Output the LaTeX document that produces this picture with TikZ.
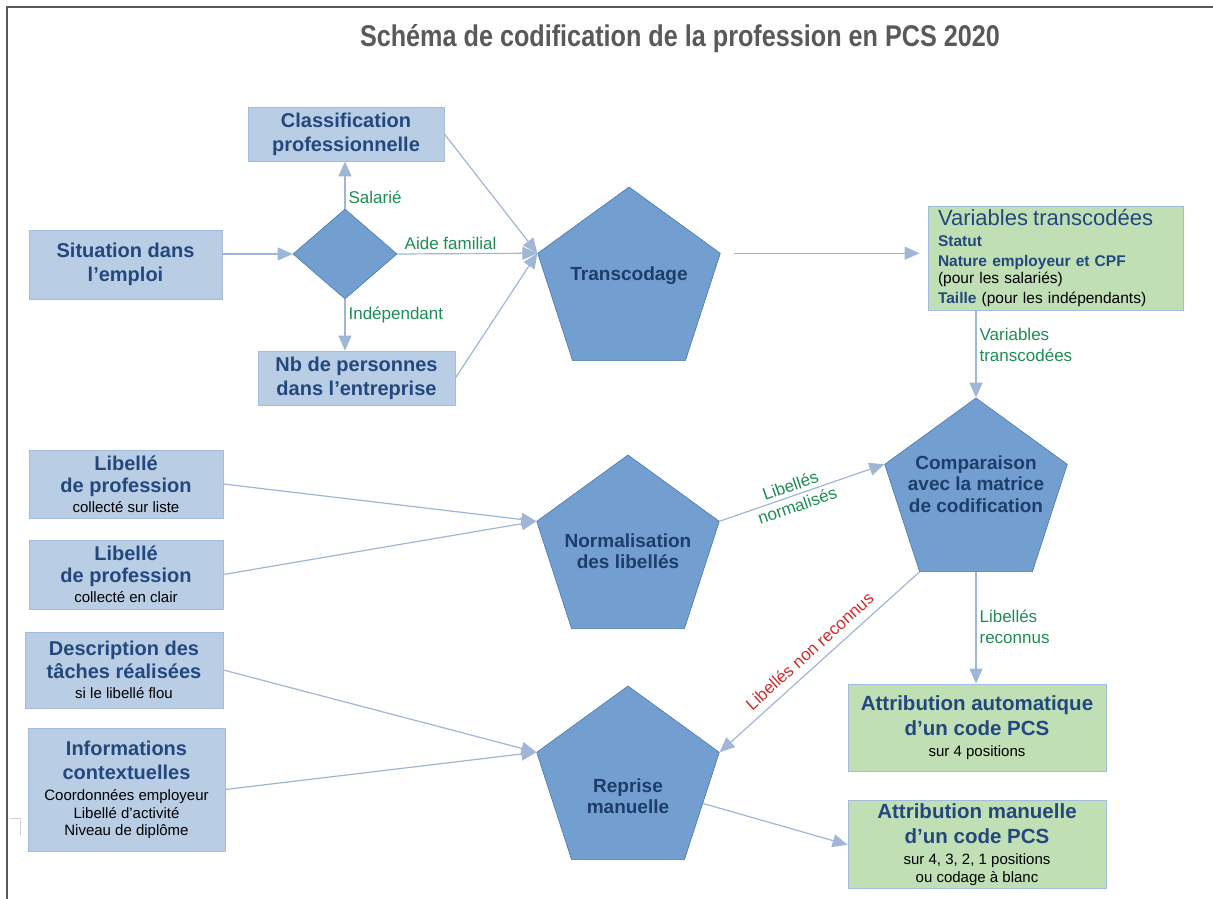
\documentclass[tikz,border=0pt]{standalone}
\usepackage{fontspec}
\setmainfont{Liberation Sans}
\newfontfamily\titrefont[FakeStretch=0.84]{Liberation Sans}
\usetikzlibrary{arrows.meta,positioning,shapes.geometric}

\definecolor{boitebleu}{HTML}{B9CDE5}
\definecolor{bordbleu}{HTML}{A3BCDD}
\definecolor{textebleu}{HTML}{23487D}
\definecolor{pentbleu}{HTML}{729FCF}
\definecolor{pentbord}{HTML}{4A77B0}
\definecolor{penttexte}{HTML}{1D3D6B}
\definecolor{boitevert}{HTML}{C0DFB5}
\definecolor{flechebleu}{HTML}{A0B6D6}
\definecolor{etiqvert}{HTML}{1E8C55}
\definecolor{etiqrouge}{HTML}{D02B2B}
\definecolor{titregris}{HTML}{595959}

\newcommand{\petit}[1]{{\fontsize{15}{17}\selectfont\mdseries\color{black}#1}}

\begin{document}
\begin{tikzpicture}[x=1pt, y=-1pt,
		boite/.style={rectangle, draw=bordbleu, line width=0.8pt, fill=boitebleu, text=textebleu, align=center, inner sep=0pt, font=\bfseries\fontsize{20}{24}\selectfont},
		boiteverte/.style={boite, fill=boitevert},
		pentagone/.style={regular polygon, regular polygon sides=5, minimum size=192pt, inner sep=0pt, fill=pentbleu, draw=pentbord, line width=0.6pt},
		pentlabel/.style={text=penttexte, align=center, font=\bfseries\fontsize{19}{21.5}\selectfont},
		fleche/.style={draw=flechebleu, line width=1.2pt, -{Triangle[length=15pt,width=13pt]}},
		etiq/.style={text=etiqvert, font=\fontsize{17}{21}\selectfont, align=left, inner sep=3pt}
	]
	\useasboundingbox (0,0) rectangle (1213,899);
	% cadre de la page
	\draw[titregris, line width=1.4pt] (1213,7) -- (7,7) -- (7,899);
	\draw[gray!35, line width=1pt] (10,818) -- (20,818) -- (20,835);

	\node (titre) [text=titregris, font=\titrefont\bfseries\fontsize{30}{34}\selectfont] at (680,39) {Schéma de codification de la profession en PCS 2020};

	% statut dans l'emploi
	\node (situation) [boite, minimum width=193pt, minimum height=69pt] at (125.5,264.5) {Situation dans\\l’emploi};
	\node (losange) [diamond, fill=pentbleu, draw=pentbord, line width=0.6pt, minimum width=104pt, minimum height=90pt, inner sep=0pt] at (345,254) {};
	\node (classif) [boite, minimum width=196pt, minimum height=54pt] at (346,134) {Classification\\professionnelle};
	\node (nbpers) [boite, minimum width=197pt, minimum height=54pt] at (356.5,378) {Nb de personnes\\dans l’entreprise};

	\node (transco) [pentagone] at (629,283) {};
	\node (transcotxt) [pentlabel] at ([yshift=7pt]transco.center) {Transcodage};

	\node (varstr) [boiteverte, minimum width=255pt, minimum height=104pt, text width=235pt, align=left, font=\bfseries\fontsize{15.5}{17}\selectfont] at (1055.5,258) {{\mdseries\fontsize{22}{24}\selectfont Variables transcodées}\\[4pt]Statut\\[3pt]Nature employeur et CPF\\{\mdseries\color{black}(pour les salariés)}\\[3pt]Taille {\mdseries\color{black}(pour les indépendants)}};

	% libelles
	\node (lib1) [boite, minimum width=194pt, minimum height=68pt] at (126,484) {Libellé\\[-2pt]de profession\\[-4pt]\petit{collecté sur liste}};
	\node (lib2) [boite, minimum width=194pt, minimum height=69pt] at (126,574.5) {Libellé\\[-2pt]de profession\\[-4pt]\petit{collecté en clair}};
	\node (desc) [boite, minimum width=198pt, minimum height=76pt] at (124,670) {Description des\\[-1pt]tâches réalisées\\[-4pt]\petit{si le libellé flou}};
	\node (info) [boite, minimum width=197pt, minimum height=123pt] at (126.5,789.5) {Informations\\contextuelles\\[-3pt]\petit{Coordonnées employeur}\\[-6pt]\petit{Libellé d’activité}\\[-7pt]\petit{Niveau de diplôme}};

	\node (normal) [pentagone] at (628,551) {};
	\node (normaltxt) [pentlabel] at (normal.center) {Normalisation\\des libellés};
	\node (compar) [pentagone] at (976,494) {};
	\node (compartxt) [pentlabel] at ([yshift=10pt]compar.center) {Comparaison\\avec la matrice\\de codification};
	\node (reprise) [pentagone] at (628,782) {};
	\node (reprisetxt) [pentlabel] at ([yshift=-14pt]reprise.center) {Reprise\\manuelle};

	% attributions
	\node (auto) [boiteverte, minimum width=258pt, minimum height=87pt, font=\bfseries\fontsize{20.5}{25}\selectfont] at (977,727.5) {Attribution automatique\\d’un code PCS\\[-4pt]\petit{sur 4 positions}};
	\node (manu) [boiteverte, minimum width=258pt, minimum height=88pt, font=\bfseries\fontsize{20.5}{25}\selectfont, below=29pt of auto] {Attribution manuelle\\d’un code PCS\\[-4pt]\petit{sur 4, 3, 2, 1 positions}\\[-7pt]\petit{ou codage à blanc}};

	\draw[fleche] (situation.east |- losange.west) -- (losange.west);
	\draw[fleche] (losange.north) -- (losange.north |- classif.south) node[etiq, pos=0.25, right] {Salarié};
	\draw[fleche] (losange.south) -- (losange.south |- nbpers.north) node[etiq, pos=0.31, right] {Indépendant};
	\draw[fleche] (losange.east) -- (transco.corner 2) node[etiq, pos=0.38, above] {Aide familial};
	\draw[fleche] (classif.east) -- (transco.corner 2);
	\draw[fleche] (nbpers.east) -- (transco.corner 2);
	\draw[fleche, shorten <=13pt, shorten >=8pt] (transco.corner 5) -- (transco.corner 5 -| varstr.west);
	\draw[fleche] (compar.corner 1 |- varstr.south) -- (compar.corner 1) node[etiq, pos=0.4, right] {Variables\\transcodées};

	\draw[fleche] (lib1.east) -- (normal.corner 2);
	\draw[fleche] (lib2.east) -- (normal.corner 2);
	\draw[fleche] (normal.corner 5) -- (compar.corner 2) node[etiq, pos=0.45, sloped, align=center] {Libellés\\normalisés};
	\draw[fleche] (compar.corner 3) -- (reprise.corner 5) node[etiq, text=etiqrouge, midway, sloped, above=5pt] {Libellés non reconnus};
	\draw[fleche] (compar.south) -- (compar.south |- auto.north) node[etiq, pos=0.49, right] {Libellés\\reconnus};
	\draw[fleche] (desc.east) -- (reprise.corner 2);
	\draw[fleche] (info.east) -- (reprise.corner 2);
	\draw[fleche] (reprise) -- (manu.west);
\end{tikzpicture}
\end{document}
